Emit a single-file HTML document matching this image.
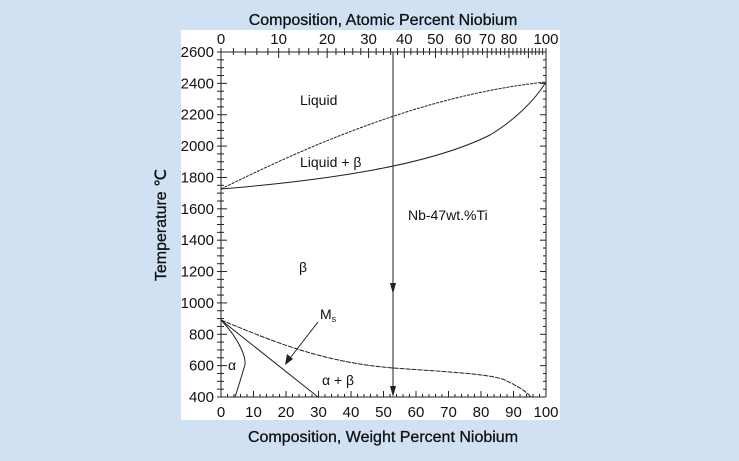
<!DOCTYPE html>
<html><head><meta charset="utf-8"><style>
html,body{margin:0;padding:0;background:#cfe1f3;}
svg{display:block;font-family:"Liberation Sans",Arial,sans-serif;}
</style></head><body>
<svg id="s" width="739" height="461" viewBox="0 0 739 461" xmlns="http://www.w3.org/2000/svg">
<rect x="0" y="0" width="739" height="461" fill="#cfe1f3"/>
<rect x="181" y="30" width="379" height="390" fill="#fff"/>
<text x="383" y="25" font-size="16" text-anchor="middle" fill="#111" stroke="#111" stroke-width="0.3">Composition, Atomic Percent Niobium</text>
<text x="383" y="442" font-size="16" text-anchor="middle" fill="#111" stroke="#111" stroke-width="0.3">Composition, Weight Percent Niobium</text>
<text transform="translate(166,225) rotate(-90)" font-size="16" text-anchor="middle" fill="#111" stroke="#111" stroke-width="0.3">Temperature ℃</text>
<g id="ax" stroke="#222" stroke-width="1" fill="none">
<line x1="221" y1="52" x2="221" y2="397"/>
<line x1="546" y1="52" x2="546" y2="397"/>
<line x1="221" y1="52" x2="546" y2="52"/>
<line x1="221" y1="397" x2="546" y2="397"/>
</g>
<g fill="none" stroke="#222" stroke-width="1">
<path d="M221,189 C300,150 420,95 546,82" stroke-dasharray="3,1"/>
<path d="M221,189 C330,180 430,165 490,135 C515,120 535,100 546,82"/>
<path d="M221,320 C270,340 320,362 393,368 C450,372 490,374 505,380 C515,385 525,390 531,397" stroke-dasharray="5,1"/>
<path d="M221,320 L318,397"/>
<path d="M221,320 C240,340 248,360 244,368 C241,378 238,388 235,397"/>
<line x1="393" y1="52" x2="393" y2="392"/>
<line x1="318" y1="322" x2="287" y2="362"/>
</g>
<g fill="#222">
<polygon points="393,397 390,386 396,386"/>
<polygon points="393,294 390,283 396,283"/>
<polygon points="285,365 287,354 293,359"/>
</g>
<g font-size="14" fill="#111">
<text x="300" y="105">Liquid</text>
<text x="300" y="167">Liquid + β</text>
<text x="299" y="272">β</text>
<text x="408" y="220">Nb-47wt.%Ti</text>
<text x="320" y="319">M<tspan font-size="9" dy="3">s</tspan></text>
<text x="228" y="370">α</text>
<text x="322" y="385">α + β</text>
</g>
<g id="t"></g>
</svg>
<script>
var g=document.getElementById('t'),ns='http://www.w3.org/2000/svg';
function L(x1,y1,x2,y2){var e=document.createElementNS(ns,'line');e.setAttribute('x1',x1);e.setAttribute('y1',y1);e.setAttribute('x2',x2);e.setAttribute('y2',y2);e.setAttribute('stroke','#222');g.appendChild(e);}
function T(x,y,s,a){var e=document.createElementNS(ns,'text');e.setAttribute('x',x);e.setAttribute('y',y);e.setAttribute('font-size','15');e.setAttribute('fill','#111');e.setAttribute('text-anchor',a);e.textContent=s;g.appendChild(e);}
function X(w){return 221+w*3.25;}
function Y(t){return 397-(t-400)*345/2200;}
for(var t=400;t<=2600;t+=50){var m=t%200==0;L(221,Y(t),221+(m?6:3),Y(t));L(546,Y(t),546-(m?6:3),Y(t));L(221,Y(t),217,Y(t));if(m)T(214,Y(t)+5,t,'end');}
for(var w=0;w<=100;w+=2){var m=w%10==0;L(X(w),397,X(w),397-(m?6:3));if(m)T(X(w),417,w,'middle');}
for(var a=0;a<=100;a+=2){var w=a*92.9/(a*92.9+(100-a)*47.87);var m=a%10==0;var x=X(100*w);L(x,52,x,52+(m?6:3));L(x,52,x,48);if(m&&a!=90)T(x,44,a,'middle');}
</script>
</body></html>
